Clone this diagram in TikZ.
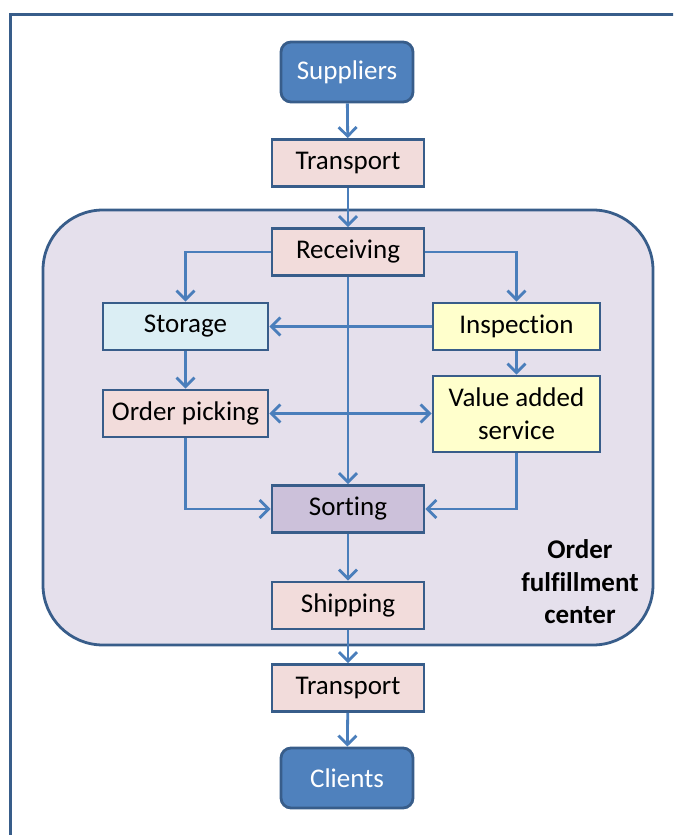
\documentclass[tikz,border=0pt]{standalone}
\usepackage{fontspec}
\setmainfont{Carlito}[Ligatures=NoCommon]
\usetikzlibrary{arrows.meta}

\begin{document}
\begin{tikzpicture}[x=1pt, y=-1pt,
    box/.style={draw=colEdge, line width=2.8pt, minimum width=152pt, minimum height=47pt,
        inner sep=0pt, font=\fontsize{27}{33}\selectfont},
    ends/.style={box, fill=colEnd, rounded corners=10pt, minimum width=132pt, minimum height=60pt, text=white},
    flow/.style={draw=colFlow, line width=2.8pt, -{Straight Barb[length=9pt, width=18pt]}}]

    % Couleurs
    \definecolor{colEnd}{RGB}{79, 129, 189}
    \definecolor{colEdge}{RGB}{56, 93, 138}
    \definecolor{colFlow}{RGB}{74, 126, 187}
    \definecolor{colPink}{RGB}{242, 220, 219}
    \definecolor{colBlue}{RGB}{219, 238, 244}
    \definecolor{colYellow}{RGB}{255, 255, 204}
    \definecolor{colLilac}{RGB}{204, 193, 218}
    \definecolor{colCenter}{RGB}{229, 224, 236}

    \useasboundingbox (0,0) rectangle (673,835);

    % Cadre
    \begin{scope}
        \clip (0,0) rectangle (673,835);
        \draw[colEdge, line width=3pt] (10,14) rectangle (700,860);
    \end{scope}

    % Centre de traitement des commandes
    \node[draw=colEdge, fill=colCenter, line width=2.8pt, rounded corners=60pt,
        minimum width=610pt, minimum height=435pt] (ofc) at (348,427.5) {};
    \node[font=\fontsize{27}{32.5}\selectfont\bfseries, align=center] (lbl) at (580,582)
        {Order\\fulfillment\\center};

    % Etapes
    \node[ends] (sup) at (347,72) {Suppliers};
    \node[box, fill=colPink] (tr1) at (348,163) {Transport};
    \node[box, fill=colPink] (rec) at (348,252) {Receiving};
    \node[box, fill=colBlue, minimum width=165pt] (sto) at (185.5,326.5) {Storage};
    \node[box, fill=colYellow, minimum width=167pt] (ins) at (516.5,326.5) {Inspection};
    \node[box, fill=colPink, minimum width=165pt] (pick) at (185.5,413.5) {Order picking};
    \node[box, fill=colYellow, minimum width=167pt, minimum height=76pt, align=center] (vas)
        at (516.5,414) {Value added\\service};
    \node[box, fill=colLilac] (sort) at (348,509) {Sorting};
    \node[box, fill=colPink] (ship) at (348,605.5) {Shipping};
    \node[box, fill=colPink] (tr2) at (348,688) {Transport};
    \node[ends] (cli) at (347,778) {Clients};

    % Flux
    \draw[flow] (sup) -- (tr1);
    \draw[flow] (tr1) -- (rec);
    \draw[flow] (rec.west) -| (sto);
    \draw[flow] (rec.east) -| (ins);
    \draw[flow] (rec) -- (sort);
    \draw[flow] (ins) -- (sto);
    \draw[flow] (ins) -- (vas);
    \draw[flow] (sto) -- (pick);
    \draw[flow, {Straight Barb[length=9pt, width=18pt]}-{Straight Barb[length=9pt, width=18pt]}]
        (pick.east) -- (pick.east -| vas.west);
    \draw[flow] (pick) |- (sort);
    \draw[flow] (vas) |- (sort);
    \draw[flow] (sort) -- (ship);
    \draw[flow] (ship) -- (tr2);
    \draw[flow] (tr2) -- (cli);

\end{tikzpicture}
\end{document}
